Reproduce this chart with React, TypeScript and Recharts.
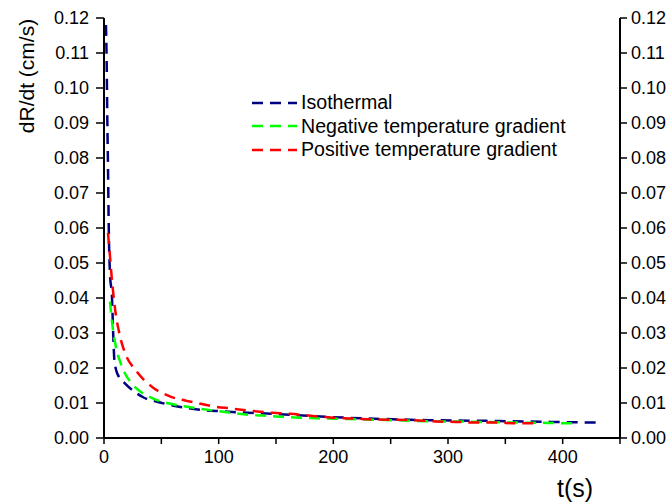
import { Legend, Line, LineChart, XAxis, YAxis } from "recharts";

const isoT = [1.7, 2.3, 2.9, 3.5, 4.2, 5.2, 7, 8, 9, 10.5, 13, 18, 27, 35, 47, 60, 80, 103, 147, 197, 246, 283, 333, 390, 431];
const isoV = [0.118, 0.108, 0.091, 0.077, 0.059, 0.047, 0.04, 0.03, 0.0225, 0.0195, 0.0175, 0.0157, 0.0131, 0.0115, 0.0103, 0.0093, 0.0082, 0.0076, 0.0069, 0.006, 0.0054, 0.0051, 0.0049, 0.0046, 0.0044];

const negT = [5.2, 7.5, 10.4, 14.5, 19, 24, 30, 42, 59, 79, 99, 118, 138, 153, 170, 188, 214, 251, 281, 310, 344, 388, 408];
const negV = [0.039, 0.0318, 0.026, 0.0214, 0.018, 0.0157, 0.0137, 0.0114, 0.0097, 0.0086, 0.0077, 0.0069, 0.0064, 0.0061, 0.0058, 0.0056, 0.0054, 0.0051, 0.0048, 0.0047, 0.0045, 0.0043, 0.0042];

const posT = [3.5, 5.2, 6.7, 9.6, 13.3, 18, 28, 42, 59, 77, 94, 112, 130, 147, 162, 182, 199, 217, 234, 269, 290, 307, 324, 342, 359, 378];
const posV = [0.0586, 0.052, 0.046, 0.037, 0.03, 0.0246, 0.0192, 0.0146, 0.0117, 0.0103, 0.0091, 0.0084, 0.0077, 0.0072, 0.0069, 0.0063, 0.0058, 0.0056, 0.0053, 0.0051, 0.0047, 0.0046, 0.0044, 0.0044, 0.0042, 0.0042];

const xTicks = [0, 50, 100, 150, 200, 250, 300, 350, 400, 450];
const yTicks = [0, 0.01, 0.02, 0.03, 0.04, 0.05, 0.06, 0.07, 0.08, 0.09, 0.1, 0.11, 0.12];

const series = [
  { name: "Isothermal", color: "#000080", data: isoT.map((t, i) => ({ t, v: isoV[i] })) },
  { name: "Negative temperature gradient", color: "#00ff00", data: negT.map((t, i) => ({ t, v: negV[i] })) },
  { name: "Positive temperature gradient", color: "#ff0000", data: posT.map((t, i) => ({ t, v: posV[i] })) },
];

const font = "'Liberation Sans', Arial, sans-serif";
const axisStyle = { stroke: "#000", strokeWidth: 2 };
const tickLineStyle = { stroke: "#000", strokeWidth: 1.5 };
const tickText = { fill: "#000", fontSize: 18, fontFamily: font };

function LegendBox() {
  return (
    <div style={{ fontFamily: font, fontSize: 19.6, color: "#000" }}>
      {series.map((s) => (
        <div key={s.name} style={{ display: "flex", alignItems: "center", height: 23.5 }}>
          <svg width={45} height={6} style={{ marginRight: 4 }}>
            <line x1={0} y1={3} x2={45} y2={3} stroke={s.color} strokeWidth={2.5} strokeDasharray="11 7" />
          </svg>
          <span style={{ lineHeight: "23.5px" }}>{s.name}</span>
        </div>
      ))}
    </div>
  );
}

export default function App() {
  return (
    <div style={{ position: "absolute", left: 0, top: 0, background: "#fff" }}>
      <LineChart width={668} height={504} margin={{ top: 18, right: 0, bottom: 0, left: 0 }}>
        <XAxis
          type="number"
          dataKey="t"
          domain={[0, 450]}
          ticks={xTicks}
          allowDataOverflow
          height={66}
          axisLine={axisStyle}
          tickLine={tickLineStyle}
          tickSize={6}
          tickMargin={6}
          tick={tickText}
          tickFormatter={(v: number) => (v % 100 === 0 ? String(v) : "")}
          label={{
            content: () => (
              <text x={575} y={497} textAnchor="middle" fontSize={25} fontFamily={font} fill="#000">
                t(s)
              </text>
            ),
          }}
        />
        <XAxis
          xAxisId="top"
          orientation="top"
          type="number"
          dataKey="t"
          domain={[0, 450]}
          height={0}
          tick={false}
          tickLine={false}
          axisLine={axisStyle}
        />
        <YAxis
          yAxisId="left"
          type="number"
          domain={[0, 0.12]}
          ticks={yTicks}
          allowDataOverflow
          width={104}
          axisLine={axisStyle}
          tickLine={tickLineStyle}
          tickSize={8}
          tickMargin={7}
          tick={tickText}
          tickFormatter={(v: number) => v.toFixed(2)}
          label={{
            content: () => (
              <text
                x={26}
                y={76}
                textAnchor="middle"
                dominantBaseline="central"
                transform="rotate(-90, 26, 76)"
                fontSize={21}
                fontFamily={font}
                fill="#000"
              >
                dR/dt (cm/s)
              </text>
            ),
          }}
        />
        <YAxis
          yAxisId="right"
          orientation="right"
          type="number"
          domain={[0, 0.12]}
          ticks={yTicks}
          allowDataOverflow
          width={48}
          axisLine={axisStyle}
          tickLine={tickLineStyle}
          tickSize={7}
          tickMargin={4}
          tick={tickText}
          tickFormatter={(v: number) => v.toFixed(2)}
        />
        <Legend
          layout="vertical"
          align="center"
          verticalAlign="middle"
          content={() => <LegendBox />}
          wrapperStyle={{ left: 252, top: 91, width: "auto" }}
        />
        {series.map((s) => (
          <Line
            key={s.name}
            yAxisId="left"
            data={s.data}
            dataKey="v"
            name={s.name}
            type="monotone"
            stroke={s.color}
            strokeWidth={2.5}
            strokeDasharray="11 7"
            dot={false}
            activeDot={false}
            isAnimationActive={false}
          />
        ))}
      </LineChart>
    </div>
  );
}
